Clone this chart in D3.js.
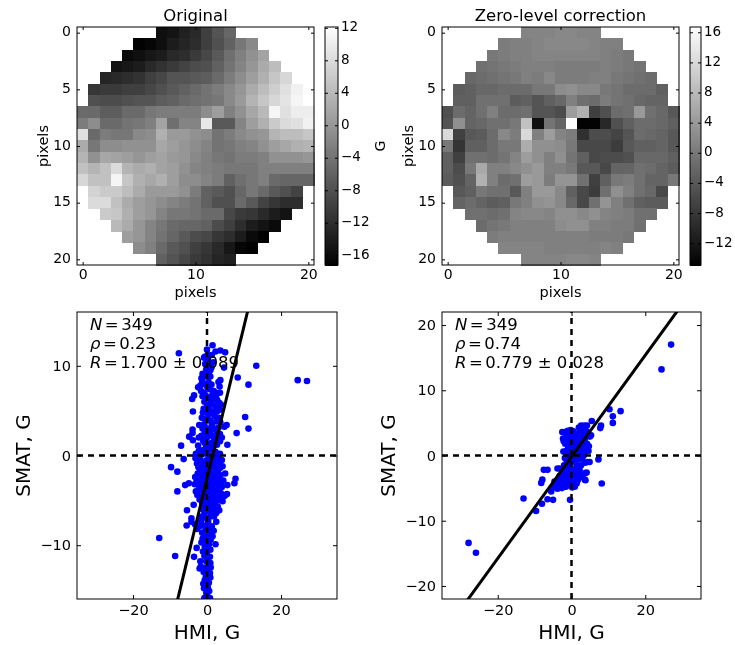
<!doctype html>
<html>
  <head>
    <meta charset="utf-8">
    <script src="https://cdnjs.cloudflare.com/ajax/libs/d3/7.8.5/d3.min.js" type="text/JavaScript"></script>
    <style>
      html, body { margin: 0; padding: 0; background: #fff; }
      svg { display: block; filter: blur(0.4px); }
      text { font-family: "DejaVu Sans", sans-serif; fill: #000; }
      .domain { stroke: #000; }
      .tick line { stroke: #000; }
      rect.frame { fill: none; stroke: #000; stroke-width: 1; }
      path.zero { fill: none; stroke: #000; stroke-width: 2.5; stroke-dasharray: 6 5; }
      path.fit { fill: none; stroke: #000; stroke-width: 3; }
      circle.pt { fill: #0000ff; }
    </style>
  </head>
  <body>
    <svg width="735" height="645"></svg>
    <script>
      // rows of the round mask, centred in the 21 x 21 grid
      var originalRows = [
        [-15.5,-15,-13.5,-12.5,-10,-7.5,-5.5],
        [-17,-16.5,-15.5,-14,-13,-12,-10,-8,-6,-3.5,-1.5],
        [-16,-15.5,-14.5,-14,-12.5,-12,-10.5,-9,-7,-4.5,-2.5,-0.5,1.5],
        [-15,-14.5,-14,-12.5,-11.5,-10.5,-9.5,-8.5,-8,-6,-4,-2,0,2.5,4.5],
        [-13,-12.5,-12,-11.5,-10,-9,-7.5,-7.5,-7,-6.5,-5,-3,-1,1,3,5.5,7.5],
        [-11,-10.5,-10.5,-10,-10,-9,-8,-7,-6,-5,-4,-3,-1.5,0,2.5,4.5,6.5,8.5,10.5],
        [-8,-8.5,-8.5,-8,-7.5,-7.5,-6.5,-6,-5,-4.5,-4,-3.5,-1.5,0.5,3.5,5.5,7.5,9,11],
        [-5,-5,-6.5,-6.5,-5,-5,-3.5,-3,-3,-3,-3,-1,1,-2.5,-0.5,2,4,11,8.5,10,10],
        [-3,-1,-5,-5,-4,-3.5,-2.5,1.5,-4.5,-2,-2,9.5,-7,-7,-2,1,3,6,8,8.5,10.5],
        [8.5,-5,-3,-3.5,-3.5,-1.5,-1,3,0.5,0.5,-0.5,-1,-4,-3,-1.5,-0.5,0,3.5,4.5,4.5,5.5],
        [2.5,-3.5,-1,-1,-0.5,-0.5,-0.5,2,1,0,-1,-2,-4,-3.5,-2.5,-2,-0.5,1,2,3,3.5],
        [3.5,-0.5,2,1.5,1,0,1,1.5,0.5,0,-1.5,-2.5,-3.5,-4,-3,-3,-2.5,-0.5,-0.5,-0.5,0],
        [5,3.5,5,8,3.5,2.5,3,1.5,1,-0.5,-2,-2.5,-3,-3.5,-3.5,-3.5,-2.5,-2.5,-2.5,-2.5,-2.5],
        [7.5,5,5,11,5.5,3,2,3,1,-1,-1,-2,-3,-6,-4.5,-3.5,-2.5,-5,-5.5,-5.5,-5.5],
        [7,6,6,4.5,2.5,0.5,0.5,0.5,-0.5,-3,-6,-7,-8,-5.5,-3.5,-5,-7,-8,-9.5],
        [8,8,5,2.5,1,0,-1,-2,-3,-4,-6,-8,-8,-5,-7,-9.5,-11,-12,-12],
        [6,5.5,3,1,0,-2,-3.5,-3.5,-4,-5,-5,-9,-10.5,-11,-12.5,-14,-15],
        [4,2.5,0,-2,-3.5,-5,-5.5,-5.5,-6,-8.5,-10,-12,-14,-15,-16],
        [1,0,-2,-4,-5.5,-7,-8.5,-9,-11,-12,-14,-16,-17],
        [-1,-2.5,-5,-7,-8,-10,-11,-12.5,-14.5,-16.5,-17],
        [-6,-7.5,-9,-10.5,-11.5,-13,-13.5]
      ];
      var correctedRows = [
        [1.5,1.5,1.5,2,2,1.5,1.5],
        [0.5,1,1,1.5,2,2,2,2,1.5,1,1],
        [0,0.5,1,1,1.5,1.5,1.5,1.5,1.5,1.5,1,0.5,0],
        [-1,-0.5,0,0.5,1,1,1,0.5,0.5,0.5,0.5,1,0.5,0,-0.5],
        [-2,-1.5,-1,-0.5,0,1,0.5,2,0.5,0.5,0.5,1,1,0,-0.5,-1,-1.5],
        [-3.5,-3,-2,-2,-1.5,-1.5,-1.5,0,0,2.5,3,2,2,0,-0.5,-1.5,-1.5,-1.5,-3],
        [-3,-3,-1,-1,-1,-3.5,-3,-4.5,-3,-2,1,-1,-1.5,0.5,-0.5,-1,-2,-2.5,-2.5],
        [-5,-1.5,-2.5,-1,1,-1.5,-1.5,-1,-4.5,-4.5,-5.5,4.5,7,-7,-5,-1.5,-1,4,-1,-2,-4],
        [-4.5,3,-2.5,-2,-1,-1,0,9,-13,-0.5,-2.5,16.5,-14.5,-14.5,-10,-5,-3,-1.5,-1.5,-2,-3],
        [12,-7,-4,-3.5,-1.5,2,0.5,12,1,4.5,1.5,0.5,-9,-5.5,-5.5,-6.5,-4.5,-1.5,-2,-2.5,-4],
        [0,-8.5,-3,-3,-1.5,0,0,6.5,3,3,2.5,0,-6,-6,-6,-7.5,-4,-3,-3,-2.5,-4],
        [-3,-7,-1,-1,-1.5,-0.5,1.5,4.5,3,1,3,-0.5,-3,-6,-5.5,-5.5,-5,-2,-2,-2,-3],
        [-3,-5.5,0,6,1,1,2,3,4,1,1,0,-4,-4,-6,-2.5,-2.5,-1,-1.5,-2.5,-3.5],
        [-3.5,-5,-2.5,7,1,-1.5,-1,4.5,4,0.5,3.5,3.5,-1,-7,-3,0,0.5,-1,-2.5,-2.5,0],
        [-4,-3,0,-1,-1,-4,1,4,4,2,-3,-6,-7.5,-1,3,1,-1,-2,-6],
        [-2.5,-1.5,-2.5,-3.5,-3,0,1,3,3.5,2,-2,-6,-1,3.5,1,-1,-3,-3.5,-3.5],
        [-1,-1,-1.5,-1,1.5,2,2,1.5,3,3,2,3,1.5,1,0.5,-1,-1],
        [-1.5,-0.5,0,1,1,1,1,2.5,3,3,1,1,0.5,0.5,-1],
        [0.5,1,1,1,1,1,1,1,1,0.5,0.5,0.5,0],
        [1.5,1.5,1.5,1.5,1,1,1,1,1,1.5,1],
        [1.5,1.5,1.5,1.5,2,2,1.5]
      ];

      var gridTicksX = [0, 10, 20];
      var gridTicksY = [0, 5, 10, 15, 20];
      var originalRange = [-17.2, 12.1];
      var correctedRange = [-14.9, 16.7];
      var originalBarTicks = [-16, -12, -8, -4, 0, 4, 8, 12];
      var correctedBarTicks = [-12, -8, -4, 0, 4, 8, 12, 16];

      // [HMI, SMAT]
      var originalPoints = [
        [-7.6,11.4],[0,11.8],[0.2,11.2],[1.5,12.3],[1.3,11.2],[2.3,11.6],[3.6,11.7],[4.9,11.5],[-0.6,11],
        [-0.8,10.9],[0.2,10.7],[-0.5,10.2],[0.6,10],[1.7,10.4],[1.2,9.8],[-0.2,9.6],[4.6,9.8],[13.3,10],[-1.2,9.1],[0.5,9.1],[-0.6,8.8],[0.9,8.8],
        [3.6,8.4],[3.1,8.2],[8.3,8.7],[11.2,7.9],[24.5,8.4],[27,8.3],[-1.3,8.2],[0.4,8.2],[-1.8,7.8],[-0.3,7.9],[1.2,7.9],[-2.4,7.6],[3.4,7.7],[-1.6,7.2],[0.7,7.4],[1.8,7.2],[3.5,7],[-0.8,7],[2.3,7],
        [-3.5,6.7],[-4,6.3],[-1.2,6.6],[0.3,6.5],[1.8,6.3],[2.7,6.2],[3.2,5.9],[-0.7,6],[1.3,5.7],[0.1,5.6],[2.3,5.5],[3.7,5.7],[-0.9,5.2],[0.6,5.1],[3.5,5.1],
        [-3.8,4.9],[-1.1,4.8],[0.9,4.7],[2.7,4.9],[10.3,4.3],[-1.4,4.2],[0.1,4.2],[3.2,4.2],[2,4.4],[3.6,3.7],[1.3,3.5],[-2.1,3.4],[-0.7,3.5],[5.3,3.4],[4.7,3.2],[11.2,3],[-3.9,2.9],[1.2,2.9],[2.2,3],
        [8,2.5],[-3.9,2.5],[-0.6,2.6],[0.8,2.4],[2.6,2.5],[3.5,2.4],[4,2],[-4.8,2.1],[-2.2,2],[0,2],[1.9,1.9],[-3.8,1.7],[-1,1.6],[3.5,1.6],[0.6,1.3],[2.7,1.2],[5.5,1.2],[-2.4,1.1],[-7,1.1],[-0.2,1],[1.7,1],
        [-2.2,0.5],[0.3,0.6],[2.3,0.4],[3.5,0.2],[-3,0.2],[-1.5,0.1],[1,0],[2.6,-0.2],[-6.3,-0.4],[-3.1,-0.3],[-1.7,-0.5],[0.6,-0.4],[1.6,-0.6],[4,-0.5],[-2.7,-0.9],[3.3,-0.9],
        [-9.7,-1.3],[-1.6,-1.2],[0.7,-1.3],[1.9,-1.3],[2.6,-1.5],[4.2,-1.2],[-8,-1.8],[-1.2,-1.7],[0,-1.8],[3,-1.9],[-2.5,-2],[-0.5,-2.1],[1.5,-2],[3.6,-2.2],[4.9,-2],[-3.2,-2.4],[-1.5,-2.5],[0.2,-2.5],[2.1,-2.5],[3.2,-2.7],[7.7,-2.6],[-2.8,-2.8],[-0.9,-2.9],[1,-2.9],[4.4,-2.8],
        [7.4,-3.1],[5.5,-3.3],[-4.9,-3.1],[-5.9,-3.3],[-3.3,-3.2],[-1.4,-3.3],[0.3,-3.3],[2.1,-3.2],[3.1,-3.4],[4,-3.5],[-2.1,-3.6],[-0.4,-3.7],[1.5,-3.7],[2.8,-3.9],[-8,-4],[-3,-4],[-0.8,-4.2],[0.7,-4.1],[3.7,-4.2],[5.4,-4.3],[-2.6,-4.4],[-1.5,-4.6],[1.8,-4.5],[4.4,-4.4],[4.8,-4.5],[2.4,-4.7],[0.1,-4.8],
        [-3.6,-5.5],[4.2,-5.1],[3.1,-5],[-1.3,-5.2],[0.8,-5.3],[2,-5.4],[-0.4,-5.7],[1.3,-5.8],[2.9,-5.7],[-5.4,-6.1],[-1.1,-6],[0.5,-6.2],[3.3,-6.1],[2.5,-6.4],[-0.7,-6.5],[1,-6.7],[-4.2,-7],[-0.1,-7],[1.9,-6.8],
        [-5.5,-7.8],[-4.2,-7.4],[-1.6,-7.3],[0.3,-7.4],[2.5,-7.4],[-3.2,-7.7],[-0.8,-7.8],[1.3,-7.9],[-2.7,-8.2],[-0.3,-8.2],[0.9,-8.3],[1.8,-8.4],[-1.3,-8.6],[0.3,-8.8],[1.5,-9],
        [-12.9,-9.2],[-1.2,-9.3],[-0.3,-9.5],[1,-9.4],[-1.5,-9.7],[0.5,-9.9],[2.3,-9.9],[-2.8,-10.3],[-0.6,-10.2],[0.9,-10.5],[-1.1,-10.7],[-0.1,-10.9],[-8.6,-11.2],
        [-3.5,-11.3],[-0.7,-11.2],[0.8,-11.3],[-1.8,-11.8],[-0.2,-11.8],[0.9,-12],[-1.7,-12.4],[-0.5,-12.5],[1,-12.5],[-2,-12.6],[0.3,-12.9],
        [-0.9,-13],[0.8,-13.1],[-0.3,-13.5],[0.9,-13.6],[-0.6,-13.9],[0.5,-14.2],[-1,-14.3],[0.2,-14.7],[-0.8,-14.8],
        [0.6,-15.1],[-0.2,-15.3],[-0.7,-15.9],[0.1,-15.7],[0.8,-15.9],
        // denser core of the column
        [0.9,9.5],[-1.5,8.6],[0.1,7.6],[1.5,6.8],[-0.4,6.7],[2.4,6.6],[1,6.1],[2.9,5.4],[0.3,4.6],[1.6,4.9],[-0.3,3.9],[0.8,3.9],[2.5,3.8],[-1.2,3],[0.2,3],[3.1,3.1],
        [-1.5,2.2],[1.3,2.2],[3,1.9],[-0.6,1.4],[1.1,1.4],[2.2,1.4],[-1,0.6],[1.3,0.7],[-0.2,0.2],[2,-0.1],[-2.2,-0.3],[0,-0.5],[3,-0.4],[-1,-0.9],[1,-0.9],[2.3,-1],
        [-2.3,-1.3],[-0.5,-1.4],[3.5,-1.4],[-2,-1.9],[0.8,-1.9],[2.4,-2],[-0.9,-2.4],[1.2,-2.4],[2.9,-2.3],[-2.2,-2.9],[0.2,-3],[2.1,-2.9],[3.7,-3],[-0.8,-3.4],[1.1,-3.4],[-1.6,-3.9],[0.2,-3.8],[2.2,-4],
        [-2,-4.9],[-0.5,-4.6],[1.2,-4.7],[3.2,-4.6],[-0.9,-5.4],[0.2,-5.1],[1.6,-5.2],[0,-6],[1.8,-6.1],[-1.4,-6.8],[0.4,-7],[-2,-7.9],[0.3,-8],[-0.8,-9],[0.8,-8.9]
      ];
      var correctedPoints = [
        [-27.9,-13.4],[-25.9,-14.9],[24.4,13.2],[27,17],[-13,-6.6],[-9.6,-8.5],[-8,-7.4],[-6.5,-6.7],[-5,-6.8],[-0.4,-6.8],[-8.2,-4.2],[-7.9,-3.7],[-7.5,-2.2],[-6.5,-2.2],[-5.5,-5.5],[8.2,-4.3],[7.3,-0.6],[10.3,7.1],[11.2,6],[13.3,6.8],[11.2,5],[8,4.6],[7.8,4.2],[5.5,5.3],
        [-2.5,3.6],[-1.8,3.6],[-1,3.8],[-0.2,3.9],[0.5,3.7],[-1.4,3.2],[-0.4,3.3],[2,4.3],[2.6,4.6],[3.5,4.6],[4.2,4.6],[3.2,3.9],[2.2,3.7],[4.1,3.7],[1.2,3.2],[3,3.2],[5.3,3.1],[5,2.9],[4.4,3.4],[0.2,3],[-2.3,2.6],
        [-2.1,2.2],[-1.2,2.6],[-0.3,2.5],[0.6,2.5],[1.6,2.6],[2.6,2.7],[3.6,2.5],[-1.7,1.8],[-0.7,1.8],[0.5,1.7],[1.4,1.9],[2.3,1.8],[3.2,1.7],[4.2,1.8],[4.7,1.4],[-0.9,1.2],[0.2,1.1],[1.1,1.2],[2.1,1.2],[3.1,1.1],
        [-2.2,0.6],[-1.4,0.7],[-0.4,0.6],[0.7,0.5],[1.7,0.6],[2.7,0.5],[3.8,0.6],[4.6,0.7],[-1,0.1],[0,0],[1,0],[2,-0.1],[3.3,0],[-1.8,-0.4],[-0.5,-0.5],[0.8,-0.6],[1.8,-0.6],[2.9,-0.5],[4.3,-1],[4.9,-1],[3.7,-1.1],[-1.3,-1],[0.1,-1],
        [-2,-1.5],[-0.8,-1.5],[1.4,-1.5],[2.6,-1.5],[-3.2,-2],[-3.8,-2],[-2.6,-2.1],[-1.5,-2.1],[-0.2,-2],[1,-2.1],[2.2,-2.2],[-2.2,-2.6],[-0.9,-2.7],[0.4,-2.7],[1.6,-2.7],[3.7,-2.7],[4.1,-2.6],[3.1,-2.9],
        [-3.2,-3.1],[-2,-3.2],[-0.5,-3.2],[0.9,-3.2],[2.5,-3.3],[-3.6,-3.6],[-2.7,-3.7],[-1.3,-3.7],[0.2,-3.7],[1.7,-3.8],[3.6,-3.7],[3.8,-3.8],[-4.6,-4],[-3.4,-4.2],[-2,-4.3],[-0.7,-4.3],[0.4,-4.4],[1.4,-4.3],[-4.2,-4.7],[-3,-4.7],[-1.5,-4.8],[0.2,-4.9],[0.9,-4.8],[-3.8,-5.1],[-4.8,-4.9],[-2.6,-5]
      ];

      var hmiTicks = [-20, 0, 20];
      var originalSmatTicks = [-10, 0, 10];
      var correctedSmatTicks = [-20, -10, 0, 10, 20];
      var originalFit = [1.7, -2.57];   // slope, intercept
      var correctedFit = [0.779, -0.2];

      var svg = d3.select("svg");

      function styleAxis(g, size, dy) {
        g.selectAll("text").style("font-size", size + "px");
        if (dy) g.selectAll("text").attr("dy", dy);
        g.select(".domain").remove();
      }

      function drawMap(rows, range, title, left, barLeft, barWidth, barTicks, barLabel) {
        var top = 27, size = 238, width = 237;
        var x = d3.scaleLinear().domain([-0.5, 20.5]).range([left, left + width]);
        var y = d3.scaleLinear().domain([-0.5, 20.5]).range([top, top + size]);
        var color = d3.scaleLinear().domain(range).range(["#000", "#fff"]);

        rows.forEach(function(row, r) {
          var start = (21 - row.length) / 2;
          svg.append("g").selectAll("rect").data(row).enter().append("rect")
            .attr("shape-rendering", "crispEdges")
            .attr("x", (d, i) => x(start + i - 0.5))
            .attr("y", y(r - 0.5))
            .attr("width", x(1) - x(0) + 0.5)
            .attr("height", y(1) - y(0) + 0.5)
            .attr("fill", d => color(d));
        });

        svg.append("g").attr("transform", "translate(0," + (top + size) + ")")
          .call(d3.axisBottom(x).tickValues(gridTicksX).tickSizeInner(-3).tickSizeOuter(0).tickPadding(4))
          .call(styleAxis, 14);
        svg.append("g").attr("transform", "translate(0," + top + ")")
          .call(d3.axisTop(x).tickValues(gridTicksX).tickSizeInner(-3).tickSizeOuter(0).tickFormat(""))
          .call(styleAxis, 14);
        svg.append("g").attr("transform", "translate(" + left + ",0)")
          .call(d3.axisLeft(y).tickValues(gridTicksY).tickSizeInner(-3).tickSizeOuter(0).tickPadding(6))
          .call(styleAxis, 14, "0.22em");
        svg.append("g").attr("transform", "translate(" + (left + width) + ",0)")
          .call(d3.axisRight(y).tickValues(gridTicksY).tickSizeInner(-3).tickSizeOuter(0).tickFormat(""))
          .call(styleAxis, 14);
        svg.append("rect").attr("class", "frame")
          .attr("x", left).attr("y", top).attr("width", width).attr("height", size);

        svg.append("text").attr("x", left + width / 2).attr("y", 21)
          .attr("text-anchor", "middle").style("font-size", "16.5px").text(title);
        svg.append("text").attr("x", left + width / 2).attr("y", 297)
          .attr("text-anchor", "middle").style("font-size", "14.5px").text("pixels");
        svg.append("text")
          .attr("transform", "translate(" + (left - 29) + "," + (top + size / 2) + ") rotate(-90)")
          .attr("text-anchor", "middle").style("font-size", "14.5px").text("pixels");

        // colour bar
        var bar = d3.scaleLinear().domain(range).range([top + size, top]);
        var levels = d3.range(0, 120);
        svg.append("g").selectAll("rect").data(levels).enter().append("rect")
          .attr("shape-rendering", "crispEdges")
          .attr("x", barLeft)
          .attr("width", barWidth)
          .attr("y", d => top + size - (d + 1) * size / levels.length)
          .attr("height", size / levels.length + 0.5)
          .attr("fill", d => color(range[0] + (range[1] - range[0]) * (d + 0.5) / levels.length));
        svg.append("g").attr("transform", "translate(" + (barLeft + barWidth) + ",0)")
          .call(d3.axisRight(bar).tickValues(barTicks).tickSizeInner(-3).tickSizeOuter(0).tickPadding(3))
          .call(styleAxis, 13.5, "0.22em");
        svg.append("g").attr("transform", "translate(" + barLeft + ",0)")
          .call(d3.axisLeft(bar).tickValues(barTicks).tickSizeInner(-3).tickSizeOuter(0).tickFormat(""))
          .call(styleAxis, 13);
        svg.append("rect").attr("class", "frame")
          .attr("x", barLeft).attr("y", top).attr("width", barWidth).attr("height", size);
        if (barLabel) {
          svg.append("text")
            .attr("transform", "translate(385," + (top + size / 2) + ") rotate(-90)")
            .attr("text-anchor", "middle").style("font-size", "14px").text(barLabel);
        }
      }

      function drawScatter(id, points, fit, yMax, yTicks, left, width, notes) {
        var top = 312, height = 287;
        var x = d3.scaleLinear().domain([-35.1, 35.1]).range([left, left + width]);
        var y = d3.scaleLinear().domain([-yMax, yMax]).range([top + height, top]);

        svg.append("clipPath").attr("id", id).append("rect")
          .attr("x", left).attr("y", top).attr("width", width).attr("height", height);
        var plot = svg.append("g").attr("clip-path", "url(#" + id + ")");

        plot.selectAll("circle").data(points).enter().append("circle")
          .attr("class", "pt").attr("r", 3.3)
          .attr("cx", d => x(d[0]))
          .attr("cy", d => y(d[1]));

        var line = d3.line().x(d => x(d[0])).y(d => y(d[1]));
        plot.append("path").attr("class", "zero")
          .attr("d", line([[x.domain()[0], 0], [x.domain()[1], 0]]));
        plot.append("path").attr("class", "zero")
          .attr("d", line([[0, -yMax], [0, yMax]]));
        plot.append("path").attr("class", "fit")
          .attr("d", line(x.domain().map(v => [v, fit[0] * v + fit[1]])));

        svg.append("g").attr("transform", "translate(0," + (top + height) + ")")
          .call(d3.axisBottom(x).tickValues(hmiTicks).tickSizeInner(-4).tickSizeOuter(0).tickPadding(6))
          .call(styleAxis, 14.5);
        svg.append("g").attr("transform", "translate(0," + top + ")")
          .call(d3.axisTop(x).tickValues(hmiTicks).tickSizeInner(-4).tickSizeOuter(0).tickFormat(""))
          .call(styleAxis, 14);
        svg.append("g").attr("transform", "translate(" + left + ",0)")
          .call(d3.axisLeft(y).tickValues(yTicks).tickSizeInner(-4).tickSizeOuter(0).tickPadding(6))
          .call(styleAxis, 14.5);
        svg.append("g").attr("transform", "translate(" + (left + width) + ",0)")
          .call(d3.axisRight(y).tickValues(yTicks).tickSizeInner(-4).tickSizeOuter(0).tickFormat(""))
          .call(styleAxis, 14);
        svg.append("rect").attr("class", "frame")
          .attr("x", left).attr("y", top).attr("width", width).attr("height", height);

        svg.append("text").attr("x", left + width / 2).attr("y", 639)
          .attr("text-anchor", "middle").style("font-size", "20px").text("HMI, G");
        svg.append("text")
          .attr("transform", "translate(" + (left - 47) + "," + (top + height / 2) + ") rotate(-90)")
          .attr("text-anchor", "middle").style("font-size", "20px").text("SMAT, G");

        notes.forEach(function(n, i) {
          var t = svg.append("text").attr("x", left + 13).attr("y", [330, 349, 368][i])
            .style("font-size", "16.5px");
          t.append("tspan").style("font-style", "italic").text(n[0]);
          t.append("tspan").attr("dx", 2.5).text("=");
          t.append("tspan").attr("dx", 2.5).text(n[1]);
        });
      }

      drawMap(originalRows, originalRange, "Original", 77, 325, 13, originalBarTicks, "G");
      drawMap(correctedRows, correctedRange, "Zero-level correction", 442, 690, 11, correctedBarTicks, null);

      drawScatter("clipA", originalPoints, originalFit, 16, originalSmatTicks, 77, 260,
        [["N", "349"], ["\u03C1", "0.23"], ["R", "1.700 \u00B1 0.089"]]);
      drawScatter("clipB", correctedPoints, correctedFit, 22, correctedSmatTicks, 442, 259,
        [["N", "349"], ["\u03C1", "0.74"], ["R", "0.779 \u00B1 0.028"]]);
    </script>
  </body>
</html>
